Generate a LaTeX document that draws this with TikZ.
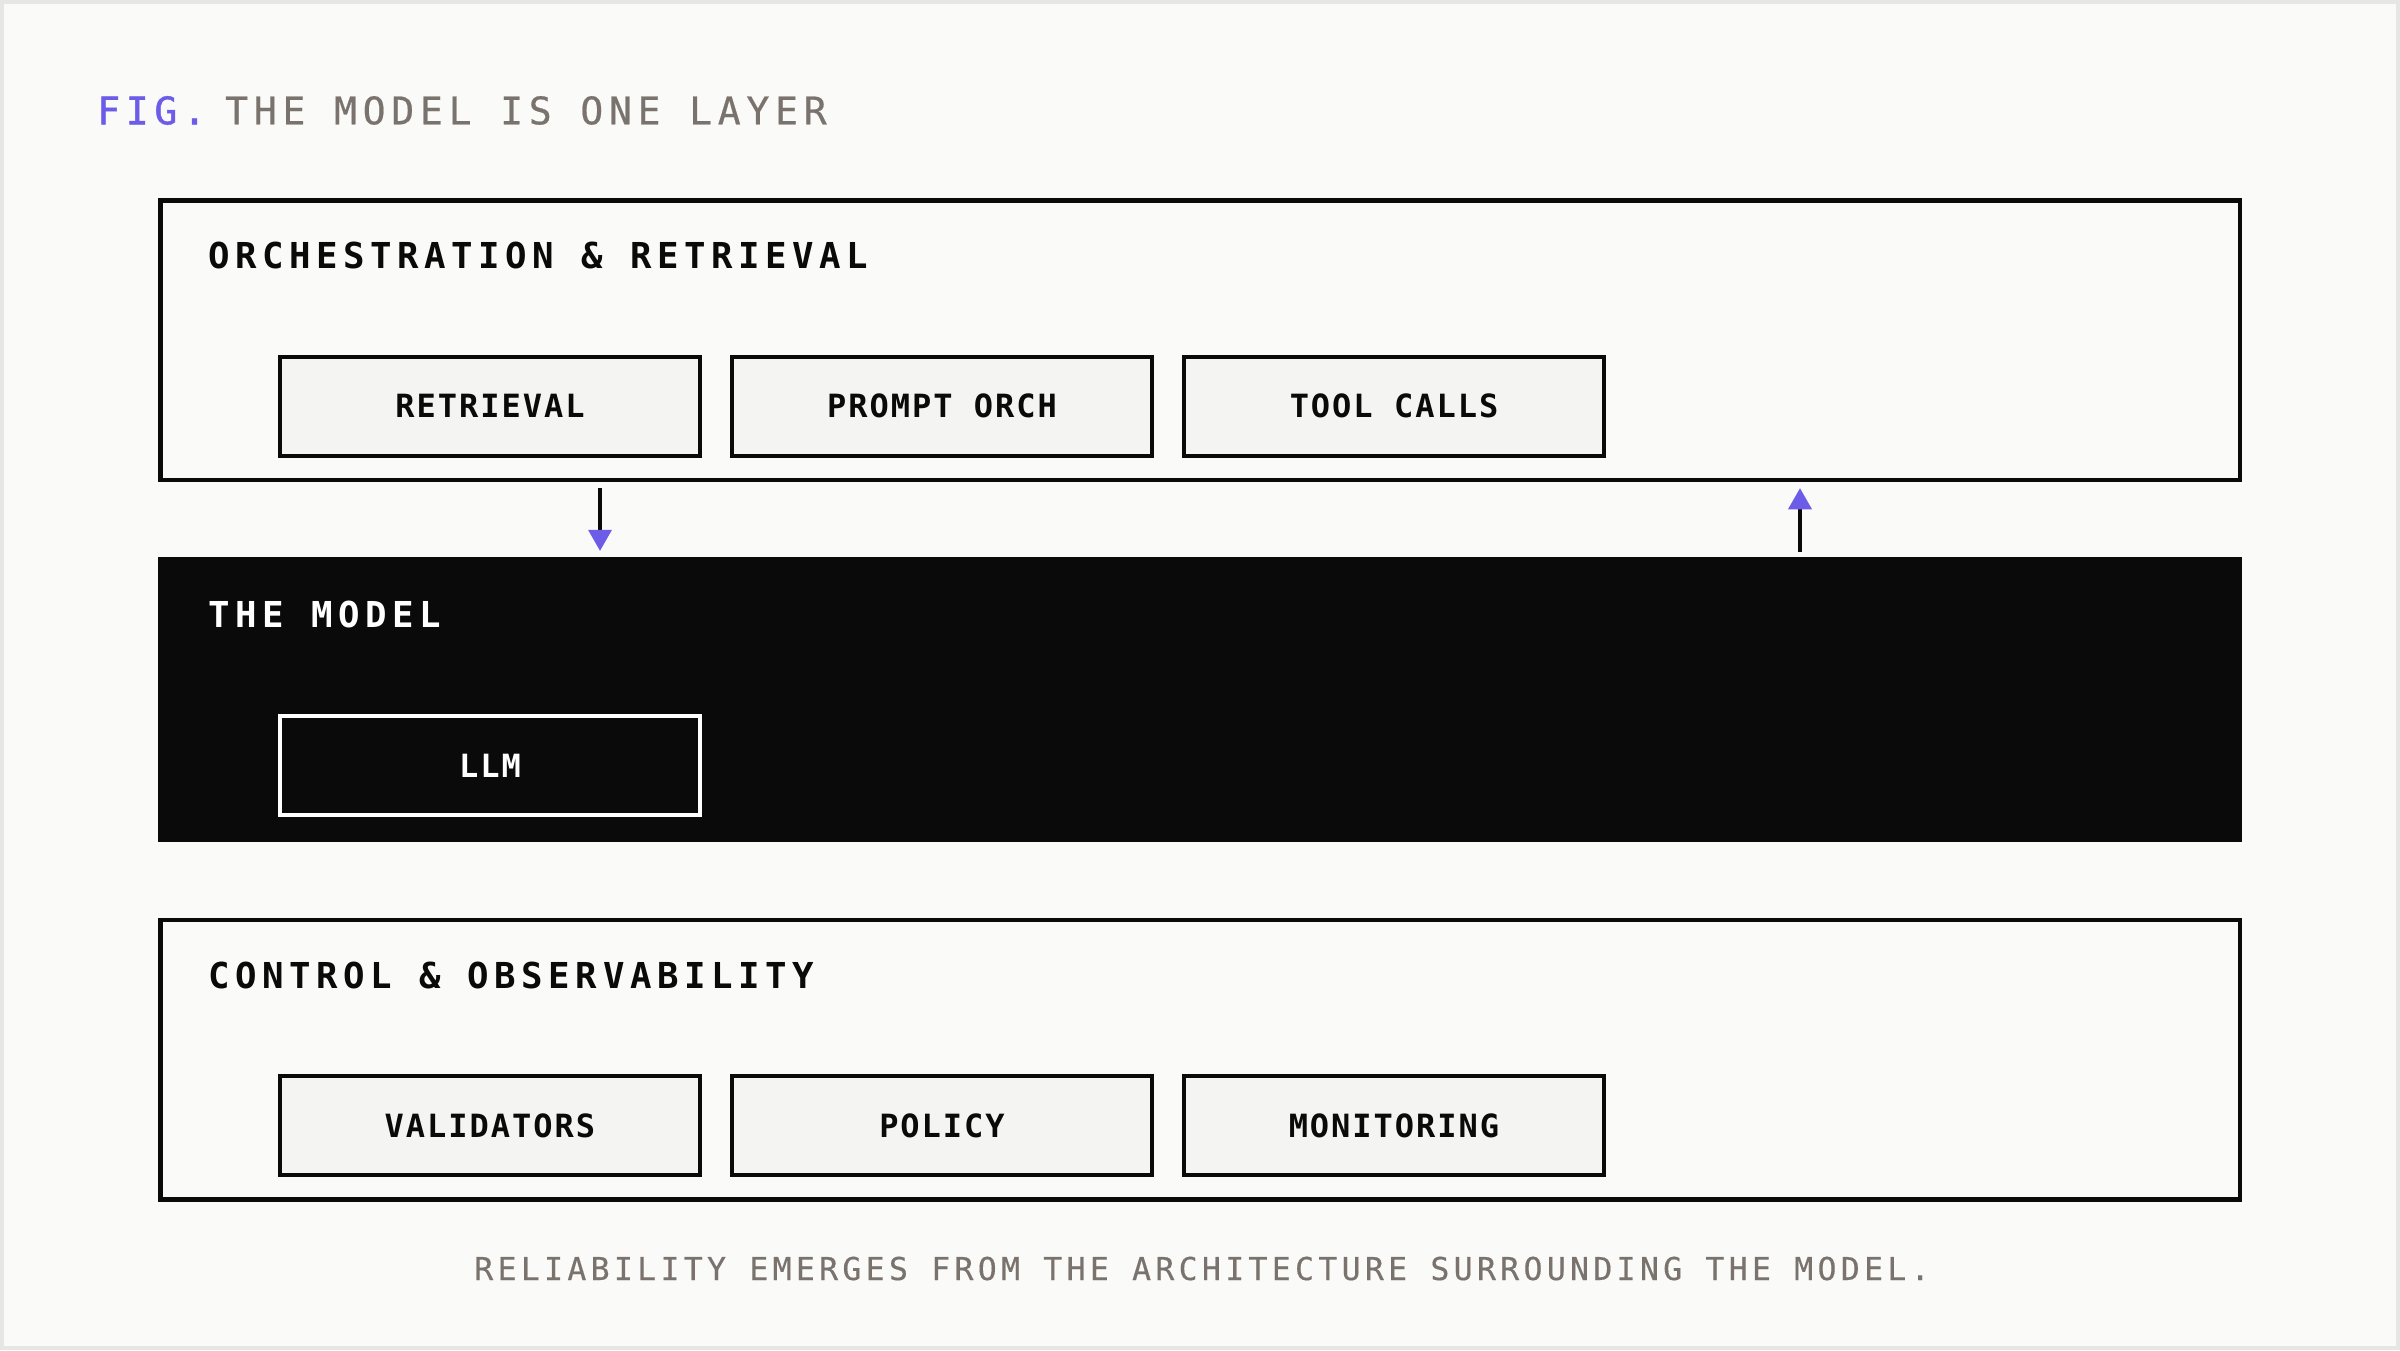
\documentclass[tikz,border=0pt]{standalone}
\usepackage{fontspec}
\usetikzlibrary{arrows.meta}
\newfontfamily\titlefont[LetterSpace=15.2, FakeBold=0.6]{DejaVu Sans Mono}
\newfontfamily\figfont[LetterSpace=15.2, FakeBold=1.2]{DejaVu Sans Mono}
\newfontfamily\secfont[LetterSpace=15.5]{DejaVu Sans Mono}
\newfontfamily\cellfont[LetterSpace=6.2]{DejaVu Sans Mono}
\newfontfamily\footfont[LetterSpace=13.7, FakeBold=0.4]{DejaVu Sans Mono}
\definecolor{bgc}{HTML}{FAFAF8}
\definecolor{edgec}{HTML}{E6E6E4}
\definecolor{inkc}{HTML}{0A0A0A}
\definecolor{accentc}{HTML}{6C5CE7}
\definecolor{mutedc}{HTML}{7A736D}
\definecolor{cellc}{HTML}{F4F4F2}
\tikzset{
  layerbox/.style={rectangle, draw=inkc, line width=4.5pt, fill=bgc, inner sep=0pt,
    minimum width=2079.5pt, minimum height=279.5pt},
  modelbox/.style={rectangle, fill=inkc, inner sep=0pt,
    minimum width=2084pt, minimum height=285pt},
  cellbox/.style={rectangle, draw=inkc, line width=4pt, fill=cellc, inner sep=0pt,
    minimum width=420pt, minimum height=99pt, text=inkc,
    font=\cellfont\bfseries\fontsize{32}{36}\selectfont},
  modelcell/.style={cellbox, draw=white, fill=inkc, text=white},
  layerlabel/.style={anchor=base west, inner sep=0pt, text=inkc,
    font=\secfont\bfseries\fontsize{35.7}{40}\selectfont},
  titletext/.style={anchor=base west, inner sep=0pt, text=mutedc,
    font=\titlefont\fontsize{38}{42}\selectfont},
  figtext/.style={titletext, text=accentc, font=\figfont\fontsize{38}{42}\selectfont},
  foottext/.style={anchor=base, inner sep=0pt, text=mutedc,
    font=\footfont\fontsize{31.5}{36}\selectfont},
  flow/.style={draw=inkc, line width=4.5pt,
    -{Triangle[length=21pt, width=24pt, line width=0pt, color=accentc]}}
}
\begin{document}
\begin{tikzpicture}[x=1pt, y=-1pt]
  \path[use as bounding box] (0,0) rectangle (2400,1350);
  \fill[edgec] (0,0) rectangle (2400,1350);
  \fill[bgc] (4,4) rectangle (2396,1346);

  % title
  \node[figtext] (fig) at (97,124.3) {FIG.};
  \node[titletext] (title) at (225,124.3) {THE MODEL IS ONE LAYER};

  % layer 1
  \node[layerbox] (orch) at (1200.25,340.25) {};
  \node[layerlabel] (orchlabel) at (208.5,268) {ORCHESTRATION \& RETRIEVAL};
  \node[cellbox] (retrieval) at (490,406) {RETRIEVAL};
  \node[cellbox] (prompt) at (942,406) {PROMPT ORCH};
  \node[cellbox] (tools) at (1394,406) {TOOL CALLS};

  % layer 2
  \node[modelbox] (model) at (1200,699.5) {};
  \node[layerlabel, text=white] (modellabel) at (208.5,627.5) {THE MODEL};
  \node[modelcell] (llm) at (490,765.5) {LLM};

  % layer 3
  \node[layerbox] (control) at (1200.25,1059.75) {};
  \node[layerlabel] (controllabel) at (208.5,988) {CONTROL \& OBSERVABILITY};
  \node[cellbox] (validators) at (490,1125.5) {VALIDATORS};
  \node[cellbox] (policy) at (942,1125.5) {POLICY};
  \node[cellbox] (monitoring) at (1394,1125.5) {MONITORING};

  % connectors
  \coordinate (downx) at (600,0);
  \coordinate (upx) at (1800,0);
  \draw[flow, shorten <=6pt, shorten >=6pt] (orch.south -| downx) -- (model.north -| downx);
  \draw[flow, shorten <=5pt, shorten >=6pt] (model.north -| upx) -- (orch.south -| upx);

  % footer
  \node[foottext] (footer) at (1202,1280) {RELIABILITY EMERGES FROM THE ARCHITECTURE SURROUNDING THE MODEL.};
\end{tikzpicture}
\end{document}
